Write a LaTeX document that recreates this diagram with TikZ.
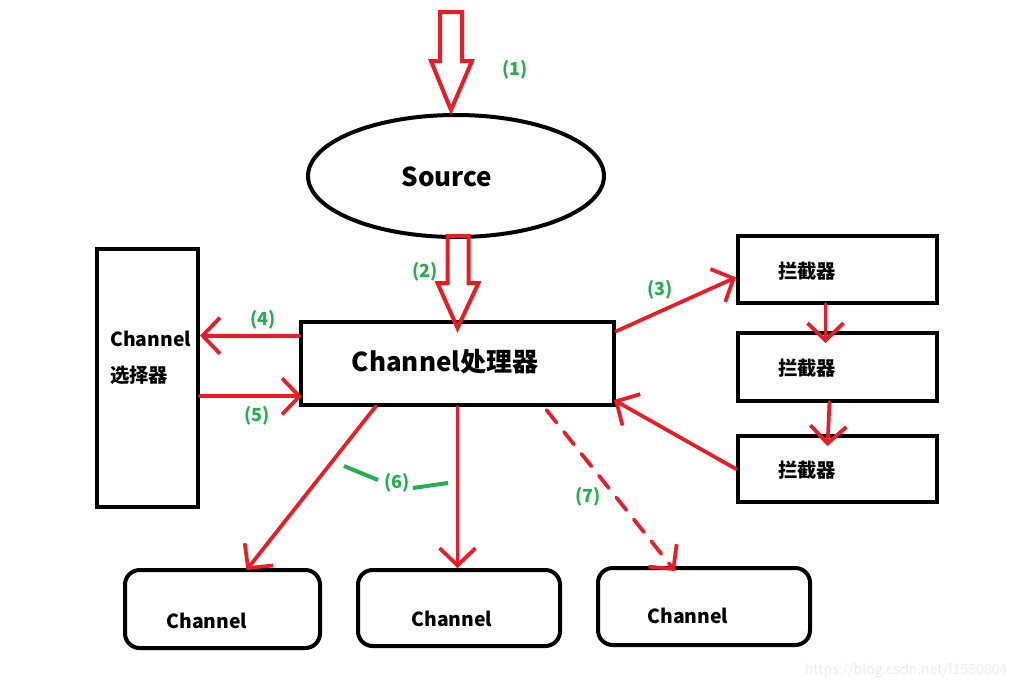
\documentclass[tikz,border=0pt]{standalone}
\usepackage{fontspec}
\setmainfont{Noto Sans CJK SC}
\usetikzlibrary{arrows.meta,shapes.geometric,calc}
\definecolor{rd}{RGB}{237,28,36}
\definecolor{gn}{RGB}{34,177,76}
\tikzset{
  box/.style={draw=black,line width=3pt,rectangle,inner sep=0pt},
  rbox/.style={box,rounded corners=11pt},
  arr/.style={draw=rd,line width=2.8pt,line cap=round,-{Straight Barb[length=13pt,width=27pt]}},
  hollow/.style={draw=rd,line width=3pt,line join=miter},
  lbl/.style={text=gn,font=\bfseries\fontsize{13.5pt}{15pt}\selectfont,inner sep=0pt},
  tick/.style={draw=gn,line width=3pt},
  big/.style={font=\bfseries\fontsize{19.5pt}{23pt}\selectfont,inner sep=0pt},
  mid/.style={font=\bfseries\fontsize{14.5pt}{17pt}\selectfont,inner sep=0pt},
}
\begin{document}
\begin{tikzpicture}[x=0.75pt,y=-0.75pt]
\useasboundingbox[fill=white] (0,0) rectangle (1020,690);
% nodes
\node[draw=black,line width=3pt,ellipse,inner sep=0pt,minimum width=222pt,minimum height=91.5pt] (src) at (456,176) {};
\node[big] (srct) at (447,177) {Source};
\node[box,minimum width=75.75pt,minimum height=193.5pt] (sel) at (147.5,378) {};
\node[mid,anchor=west] (selt1) at (110,339) {Channel};
\node[mid,anchor=west] (selt2) at (110,375) {选择器};
\node[box,minimum width=234.75pt,minimum height=62.25pt] (proc) at (457.5,363.5) {};
\node[big] (proct) at (445,362) {Channel处理器};
\node[box,minimum width=149.25pt,minimum height=50.25pt] (b1) at (837.5,269.5) {};
\node[box,minimum width=149.25pt,minimum height=51pt] (b2) at (837.5,367) {};
\node[box,minimum width=149.25pt,minimum height=49.5pt] (b3) at (837.5,469) {};
\node[mid] (b1t) at (807,271) {拦截器};
\node[mid] (b2t) at (807,368) {拦截器};
\node[mid] (b3t) at (807,470) {拦截器};
\node[rbox,minimum width=146.25pt,minimum height=58.5pt] (ca) at (222.5,609) {};
\node[rbox,minimum width=151.5pt,minimum height=57pt] (cb) at (459,608) {};
\node[rbox,minimum width=159pt,minimum height=57.75pt] (cc) at (704,606.5) {};
\node[mid] (cat) at (207,621) {Channel};
\node[mid] (cbt) at (452,619) {Channel};
\node[mid] (cct) at (688,616) {Channel};
% labels
\node[lbl] (l1) at (515,70) {(1)};
\node[lbl] (l2) at (425,272) {(2)};
\node[lbl] (l3) at (660,290) {(3)};
\node[lbl] (l4) at (263,320) {(4)};
\node[lbl] (l5) at (257,416) {(5)};
\node[lbl] (l6) at (397,483) {(6)};
\node[lbl] (l7) at (588,497) {(7)};
% hollow arrows
\coordinate (t1) at ($(src.north)+(-5,-3)$);
\draw[hollow] (t1) -- ++(-20,-49) -- ++(9,0) -- ++(0,-49) -- ++(22,0) -- ++(0,49) -- ++(10,0) -- cycle;
\coordinate (t2) at ($(proc.north)+(0,8)$);
\draw[hollow] (t2) -- ++(-20,-45) -- ++(10,0) -- ++(0,-47) -- ++(21,0) -- ++(0,47) -- ++(10,0) -- cycle;
% connectors
\coordinate (p4) at ($(proc.north west)!0.18!(proc.south west)$);
\draw[arr] (p4) -- (p4 -| sel.east);
\coordinate (s5) at ($(sel.north east)!0.57!(sel.south east)$);
\draw[arr] (s5) -- ($(s5 -| proc.west)+(3,0)$);
\draw[arr] ($(proc.north east)!0.13!(proc.south east)$) -- ($(b1.north west)!0.61!(b1.south west)$);
\draw[arr] ($(b1.south)+(-12,-1)$) -- ($(b2.north)+(-12,12)$);
\draw[arr] ($(b2.south)+(-8,-1)$) -- ($(b3.north)+(-10,12)$);
\draw[arr] (b3.west) -- ($(proc.south east)+(-2,-7)$);
\draw[arr] ($(proc.south west)+(77,-1)$) -- ($(ca.north)+(24,2)$);
\draw[arr] (proc.south) -- (proc.south |- cb.north);
\draw[arr,dash pattern=on 12pt off 9pt] ($(proc.south)+(89,3)$) -- ($(cc.north)+(-29,5)$);
% green ticks
\draw[tick] ($(l6)+(-53,-17)$) -- ($(l6)+(-19,-3)$);
\draw[tick] ($(l6)+(16,5)$) -- ($(l6)+(51,0)$);
% watermark
\node[text=black!7,font=\fontsize{10.5pt}{12pt}\selectfont,inner sep=0pt] (wm) at (906,671) {https://blog.csdn.net/f1550804};
\end{tikzpicture}
\end{document}
